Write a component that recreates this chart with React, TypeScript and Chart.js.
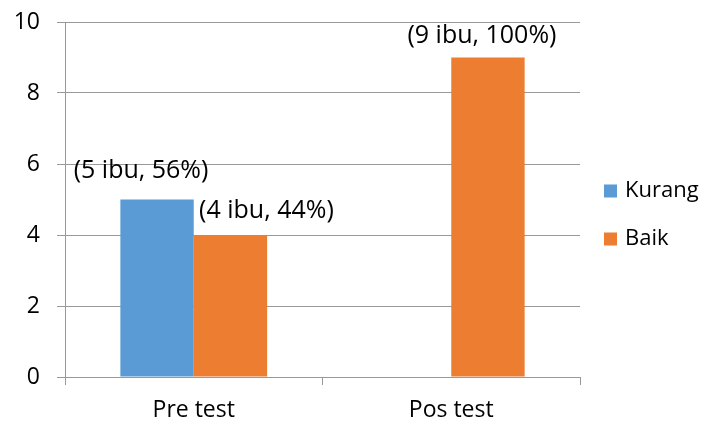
import React, { useEffect, useRef } from "react";
import { Chart, registerables } from "chart.js";

Chart.register(...registerables);

const categories = ["Pre test", "Pos test"];
const kurangValues = [5, 0];
const baikValues = [4, 9];
const kurangLabels = ["(5 ibu, 56%)", ""];
const baikLabels = ["(4 ibu, 44%)", "(9 ibu, 100%)"];
const yTicks = [0, 2, 4, 6, 8, 10];

const FONT = "'Open Sans', sans-serif";

// label offsets (style) relative to bar top-center: [dx, dy]
const labelOffsets: Record<string, [number, number][]> = {
  "0": [[-16, -29], [0, 0]],
  "1": [[36, -24], [-6, -22]],
};

const labelPlugin = {
  id: "barLabels",
  afterDatasetsDraw(chart: any) {
    const ctx = chart.ctx;
    ctx.save();
    ctx.font = `25px ${FONT}`;
    ctx.fillStyle = "#000";
    ctx.textAlign = "center";
    ctx.textBaseline = "middle";
    chart.data.datasets.forEach((ds: any, di: number) => {
      const meta = chart.getDatasetMeta(di);
      meta.data.forEach((bar: any, i: number) => {
        const text = ds.labelTexts[i];
        if (!text) return;
        const [dx, dy] = labelOffsets[String(di)][i];
        ctx.fillText(text, bar.x + dx, bar.y + dy);
      });
    });
    ctx.restore();
  },
};

// legend drawn at the right side of the chart area
const legendPlugin = {
  id: "sideLegend",
  afterDraw(chart: any) {
    const ctx = chart.ctx;
    const area = chart.chartArea;
    const boxX = area.right + 24;
    const startY = 191;
    const step = 48;
    ctx.save();
    ctx.font = `22px ${FONT}`;
    ctx.textAlign = "left";
    ctx.textBaseline = "middle";
    chart.data.datasets.forEach((ds: any, i: number) => {
      const cy = startY + i * step;
      ctx.fillStyle = ds.backgroundColor;
      ctx.fillRect(boxX, cy - 6.5, 13, 13);
      ctx.fillStyle = "#000";
      ctx.fillText(ds.label, boxX + 21, cy);
    });
    ctx.restore();
  },
};

export default function App() {
  const ref = useRef<HTMLCanvasElement>(null);
  useEffect(() => {
    const chart = new Chart(ref.current!, {
      type: "bar",
      data: {
        labels: categories,
        datasets: [
          {
            label: "Kurang",
            data: kurangValues,
            backgroundColor: "#5B9BD5",
            labelTexts: kurangLabels,
          } as any,
          {
            label: "Baik",
            data: baikValues,
            backgroundColor: "#ED7D31",
            labelTexts: baikLabels,
          } as any,
        ],
      },
      options: {
        animation: false,
        responsive: true,
        maintainAspectRatio: false,
        layout: { padding: { top: 22, right: 124, left: 0, bottom: 0 } },
        datasets: {
          bar: { categoryPercentage: 0.57, barPercentage: 1, borderWidth: 0 },
        },
        plugins: {
          legend: { display: false },
          tooltip: { enabled: false },
        },
        scales: {
          x: {
            grid: {
              display: true,
              drawOnChartArea: false,
              offset: true,
              color: "#999",
              tickLength: 8,
            },
            border: { color: "#999" },
            ticks: { color: "#000", font: { family: FONT, size: 23 }, padding: 12 },
            afterFit(scale: any) {
              scale.height = 47;
            },
          } as any,
          y: {
            min: 0,
            max: 10,
            afterBuildTicks(scale: any) {
              scale.ticks = yTicks.map((v) => ({ value: v }));
            },
            grid: { color: "#999", tickLength: 8 },
            border: { color: "#999" },
            ticks: { color: "#000", font: { family: FONT, size: 23 }, padding: 17 },
            afterFit(scale: any) {
              scale.width = 65;
              scale.paddingTop = 0;
              scale.paddingBottom = 0;
            },
          },
        },
      },
      plugins: [labelPlugin, legendPlugin],
    });
    return () => chart.destroy();
  }, []);
  return (
    <div style={{ position: "fixed", left: 0, top: 0, width: 704, height: 424, background: "#fff" }}>
      <canvas ref={ref} />
    </div>
  );
}
